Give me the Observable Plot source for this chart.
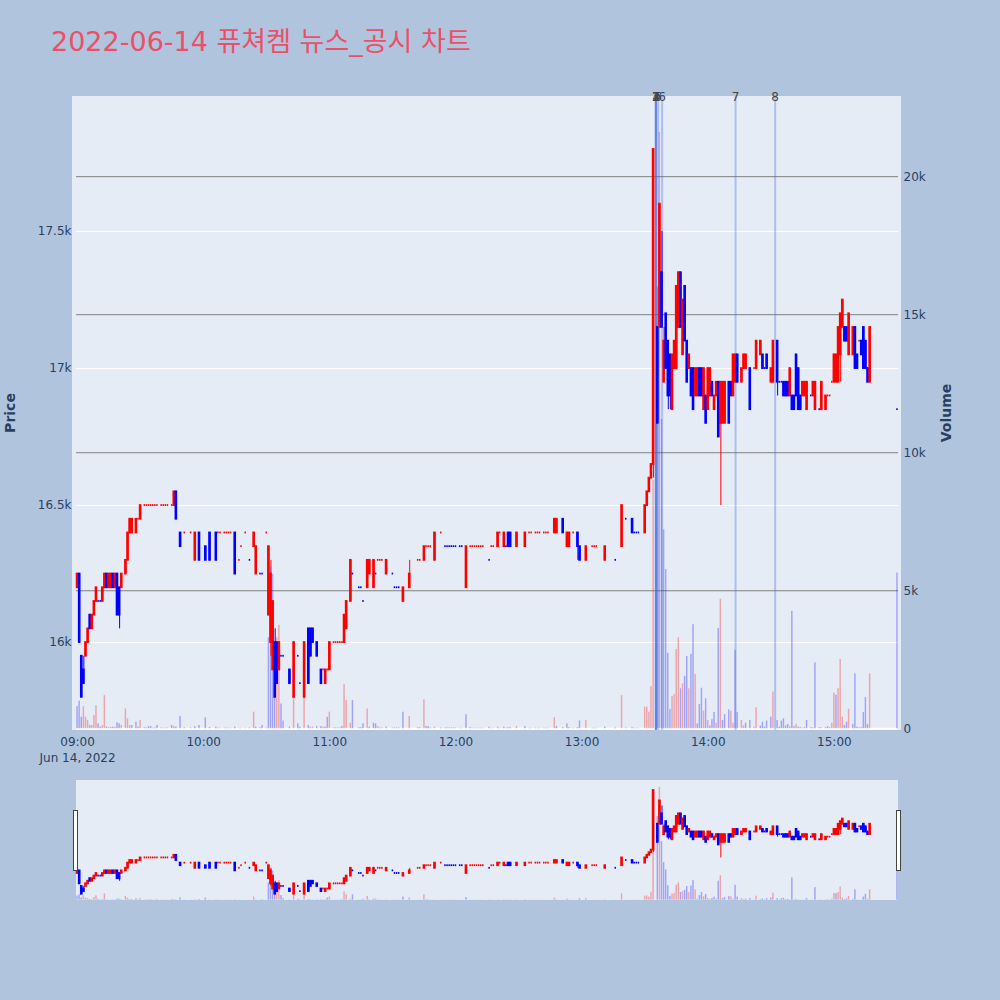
<!DOCTYPE html>
<html>
<head>
<meta charset="utf-8">
<script src="https://cdn.jsdelivr.net/npm/d3@7"></script>
<script src="https://cdn.jsdelivr.net/npm/@observablehq/plot@0.6"></script>
<style>
  html, body { margin: 0; padding: 0; background: #B0C4DE; }
  #root { position: relative; width: 1000px; height: 1000px; overflow: hidden; font-family: "DejaVu Sans", "Noto Sans CJK KR", sans-serif; }
  .abs { position: absolute; }
  .layer { position: absolute; left: 0; }
  .axtitle { position: absolute; transform: translate(-50%, -50%) rotate(-90deg); font-weight: bold; font-size: 14px; color: #2a3f5f; white-space: nowrap; }
  .handle { position: absolute; background: #fff; border: 1px solid #444; box-sizing: border-box; }
</style>
</head>
<body>
<div id="root">
  <div id="title" class="abs" style="left:51px; top:28px; font-size:27px; line-height:27px; color:#EB5068; white-space:nowrap;"></div>
  <div class="abs" style="left:72px; top:96px; width:829px; height:634px; background:#E5ECF6;"></div>
  <div id="mainA" class="layer" style="top:60px"></div>
  <div id="mainB" class="layer" style="top:60px"></div>
  <div id="mainC" class="layer" style="top:60px"></div>
  <div id="mainD" class="layer" style="top:60px"></div>
  <div id="yTitleL" class="axtitle" style="left:10px; top:413px;"></div>
  <div id="yTitleR" class="axtitle" style="left:946px; top:413px;"></div>
  <div class="abs" style="left:76px; top:780px; width:822px; height:120px; background:#E5ECF6;"></div>
  <div id="sliderV" class="layer" style="top:780px"></div>
  <div id="sliderC" class="layer" style="top:780px"></div>
  <div class="handle" style="left:73px; top:810px; width:5px; height:61px;"></div>
  <div class="handle" style="left:896px; top:810px; width:5px; height:61px;"></div>
</div>
<script>
// ---------- text ----------
const titleText = "2022-06-14 퓨쳐켐 뉴스_공시 차트";
const priceTitle = "Price";
const volumeTitle = "Volume";
const dateLabel = "Jun 14, 2022";

// ---------- 1-minute candles ----------
const times = [
  "09:00","09:01","09:02","09:03","09:04","09:05","09:06","09:07","09:08","09:09",
  "09:10","09:11","09:12","09:13","09:14","09:15","09:16","09:17","09:18","09:19",
  "09:20","09:21","09:23","09:24","09:25","09:26","09:28","09:29","09:30","09:32",
  "09:33","09:34","09:35","09:36","09:37","09:38","09:40","09:41","09:42","09:43",
  "09:45","09:46","09:47","09:49","09:51","09:54","09:56","09:58","10:01","10:03",
  "10:06","10:07","10:08","10:10","10:11","10:12","10:13","10:15","10:17","10:18",
  "10:20","10:22","10:24","10:25","10:27","10:28","10:30","10:31","10:32","10:33",
  "10:34","10:35","10:36","10:37","10:38","10:41","10:43","10:45","10:46","10:48",
  "10:50","10:51","10:52","10:54","10:56","10:57","10:58","10:59","11:00","11:02",
  "11:03","11:04","11:05","11:06","11:07","11:08","11:10","11:11","11:14","11:15",
  "11:16","11:18","11:19","11:21","11:22","11:23","11:24","11:25","11:27","11:30",
  "11:31","11:32","11:33","11:35","11:38","11:42","11:43","11:45","11:46","11:47",
  "11:48","11:50","11:53","11:55","11:56","11:57","11:58","11:59","12:00","12:02",
  "12:03","12:05","12:07","12:08","12:09","12:10","12:11","12:12","12:13","12:16",
  "12:17","12:18","12:20","12:21","12:23","12:24","12:25","12:26","12:29","12:33",
  "12:35","12:36","12:38","12:39","12:40","12:42","12:43","12:44","12:47","12:48",
  "12:51","12:53","12:54","12:56","12:58","12:59","13:02","13:05","13:06","13:07",
  "13:11","13:16","13:19","13:21","13:24","13:25","13:26","13:27","13:30","13:31",
  "13:32","13:33","13:34","13:36","13:37","13:38","13:39","13:40","13:41","13:42",
  "13:43","13:44","13:45","13:46","13:47","13:48","13:49","13:50","13:51","13:52",
  "13:53","13:54","13:55","13:56","13:57","13:58","13:59","14:00","14:01","14:02",
  "14:03","14:04","14:05","14:06","14:07","14:08","14:10","14:11","14:12","14:13",
  "14:14","14:16","14:17","14:18","14:20","14:22","14:23","14:25","14:26","14:27",
  "14:28","14:30","14:31","14:33","14:34","14:35","14:36","14:37","14:38","14:39",
  "14:40","14:41","14:42","14:43","14:44","14:45","14:46","14:47","14:49","14:50",
  "14:51","14:53","14:54","14:56","14:57","14:58","14:59","15:00","15:01","15:02",
  "15:03","15:04","15:05","15:06","15:07","15:09","15:10","15:11","15:12","15:13",
  "15:14","15:15","15:16","15:17","15:30"
];
const open = [
  16200,16250,15950,15900,15950,16000,16100,16050,16100,16150,
  16150,16150,16150,16200,16250,16200,16200,16250,16200,16250,
  16200,16200,16250,16300,16400,16400,16400,16450,16450,16500,
  16500,16500,16500,16500,16500,16500,16500,16500,16500,16500,
  16500,16500,16550,16400,16400,16400,16300,16400,16350,16400,
  16400,16400,16400,16400,16400,16400,16400,16400,16300,16350,
  16400,16300,16350,16250,16250,16250,16400,16100,16000,15900,
  16000,16000,15900,15950,15950,15900,15800,15950,15850,15800,
  16050,16050,16050,16000,15900,15900,15850,15900,15900,16000,
  16000,16000,16000,16000,16000,16050,16150,16250,16200,16200,
  16150,16200,16250,16200,16250,16300,16300,16300,16250,16250,
  16200,16200,16200,16150,16200,16300,16300,16300,16350,16350,
  16350,16300,16400,16350,16350,16350,16350,16350,16350,16350,
  16350,16200,16350,16350,16350,16350,16350,16350,16350,16300,
  16350,16350,16350,16400,16350,16350,16400,16400,16350,16350,
  16400,16400,16400,16400,16400,16400,16400,16400,16400,16400,
  16450,16350,16350,16400,16400,16350,16300,16350,16350,16350,
  16300,16300,16350,16450,16450,16400,16400,16400,16400,16500,
  16550,16600,16650,17150,17150,17350,16950,17200,17100,17050,
  16850,17000,17000,17150,17350,17050,17300,17100,17000,17000,
  17000,16900,16900,17000,17000,16850,16900,16850,16900,16950,
  16850,16900,16950,16800,16800,16800,16950,16950,16900,16950,
  17050,16950,17000,17000,17000,17000,17000,17050,17050,17000,
  17050,16950,16950,17100,16950,16950,16950,16950,16950,16900,
  16900,16900,17050,17000,16900,16900,16900,16850,16900,16900,
  16850,16850,16850,16850,16900,16900,16950,16950,16950,16950,
  17050,17150,17150,17150,17050,17050,17150,17050,17100,17100,
  17150,17100,17000,16950,16850
];
const high = [
  16250,16250,15950,15950,16000,16050,16100,16100,16150,16200,
  16150,16150,16200,16250,16250,16250,16250,16250,16250,16250,
  16200,16250,16300,16400,16450,16450,16450,16450,16500,16500,
  16500,16500,16500,16500,16500,16500,16500,16500,16500,16500,
  16500,16550,16550,16400,16400,16400,16400,16400,16350,16400,
  16400,16400,16400,16400,16400,16400,16400,16400,16300,16350,
  16400,16300,16400,16350,16250,16250,16400,16350,16300,16150,
  16050,16000,16000,15950,15950,15900,16000,15950,15850,16000,
  16050,16050,16050,16000,15900,15900,15900,15900,16000,16000,
  16000,16000,16000,16000,16100,16150,16300,16250,16200,16200,
  16150,16300,16300,16300,16250,16300,16300,16300,16300,16250,
  16200,16200,16200,16200,16300,16300,16300,16350,16350,16350,
  16350,16400,16400,16350,16350,16350,16350,16350,16350,16350,
  16350,16350,16350,16350,16350,16350,16350,16350,16350,16300,
  16350,16350,16400,16400,16400,16350,16400,16400,16400,16400,
  16400,16400,16400,16400,16400,16400,16400,16400,16450,16450,
  16450,16400,16400,16400,16400,16350,16350,16350,16350,16350,
  16350,16300,16500,16450,16450,16400,16400,16400,16500,16550,
  16600,16650,17800,17150,17600,17500,17150,17200,17100,17050,
  17050,17100,17300,17350,17350,17250,17300,17100,17050,17000,
  17000,17000,17000,17000,17000,17000,16900,17000,17000,16950,
  16900,16950,16950,16950,16950,16950,16950,16950,17050,17050,
  17050,17000,17050,17050,17000,17000,17100,17100,17050,17000,
  17050,17000,17100,17100,16950,16950,16950,16950,16950,17000,
  16900,16900,17050,17000,16900,16950,16950,16950,16900,16950,
  16950,16850,16950,16900,16900,16900,16950,17050,17050,17150,
  17200,17250,17150,17150,17200,17150,17150,17050,17100,17100,
  17150,17100,17000,17150,16850
];
const low = [
  16200,16000,15800,15850,15950,16000,16050,16050,16100,16150,
  16150,16150,16150,16200,16200,16200,16200,16200,16200,16100,
  16050,16200,16250,16300,16400,16400,16400,16450,16450,16500,
  16500,16500,16500,16500,16500,16500,16500,16500,16500,16500,
  16500,16500,16450,16350,16400,16400,16300,16300,16300,16300,
  16300,16400,16400,16400,16400,16400,16400,16250,16300,16350,
  16400,16300,16350,16250,16250,16250,16400,16100,15950,15900,
  15800,15850,15900,15950,15950,15850,15800,15950,15850,15800,
  15850,15950,16000,15950,15850,15900,15850,15900,15900,16000,
  16000,16000,16000,16000,16000,16050,16150,16250,16200,16200,
  16150,16200,16250,16200,16250,16300,16300,16300,16250,16250,
  16200,16200,16200,16150,16200,16300,16300,16300,16350,16350,
  16350,16300,16400,16350,16350,16350,16350,16350,16350,16350,
  16350,16200,16350,16350,16350,16350,16350,16350,16350,16300,
  16350,16350,16350,16400,16350,16350,16350,16350,16350,16350,
  16400,16400,16400,16400,16400,16400,16400,16400,16400,16400,
  16400,16350,16350,16400,16300,16300,16300,16350,16350,16350,
  16300,16300,16350,16450,16400,16400,16400,16400,16400,16500,
  16550,16600,16600,16800,17150,17150,16950,17000,16850,16850,
  16850,17000,17000,17150,17150,17050,17100,16950,17000,16900,
  16850,16900,16900,16900,16900,16850,16800,16850,16900,16900,
  16850,16900,16750,16500,16800,16800,16800,16900,16900,16950,
  16950,16950,17000,17000,16850,17000,17000,17050,17000,17000,
  17000,16950,16950,16900,16950,16950,16900,16900,16900,16900,
  16850,16850,16900,16850,16850,16900,16900,16850,16900,16900,
  16850,16850,16850,16850,16900,16900,16950,16950,16950,16950,
  16950,17150,17100,17100,17050,17050,17000,17000,17100,17050,
  17000,17000,16950,16950,16850
];
const close = [
  16250,16000,15800,15850,16000,16050,16050,16100,16150,16200,
  16150,16150,16200,16250,16200,16250,16250,16200,16250,16100,
  16100,16250,16300,16400,16450,16450,16450,16450,16500,16500,
  16500,16500,16500,16500,16500,16500,16500,16500,16500,16500,
  16500,16550,16450,16350,16400,16400,16400,16300,16300,16300,
  16300,16400,16400,16400,16400,16400,16400,16250,16300,16350,
  16400,16300,16400,16350,16250,16250,16400,16350,16250,16150,
  15800,15850,16000,15950,15950,15850,16000,15950,15850,16000,
  15850,15950,16000,15950,15850,15900,15900,15900,16000,16000,
  16000,16000,16000,16000,16100,16150,16300,16250,16200,16200,
  16150,16300,16300,16300,16250,16300,16300,16300,16300,16250,
  16200,16200,16200,16200,16250,16300,16300,16350,16350,16350,
  16350,16400,16400,16350,16350,16350,16350,16350,16350,16350,
  16350,16350,16350,16350,16350,16350,16350,16350,16350,16300,
  16350,16350,16400,16400,16400,16350,16350,16350,16400,16400,
  16400,16400,16400,16400,16400,16400,16400,16400,16450,16450,
  16400,16400,16400,16400,16350,16300,16350,16350,16350,16350,
  16350,16300,16500,16450,16400,16400,16400,16400,16500,16550,
  16600,16650,17800,16800,17600,17150,17100,17000,16900,16900,
  17050,17100,17300,17350,17150,17250,17100,16950,17050,16900,
  16850,17000,17000,16900,16900,17000,16800,17000,17000,16900,
  16900,16950,16750,16950,16950,16950,16800,16900,17050,17050,
  16950,17000,17050,17050,16850,17000,17100,17100,17000,17000,
  17000,17000,17100,16950,16950,16950,16900,16900,16900,17000,
  16850,16850,16900,16850,16850,16950,16950,16950,16900,16950,
  16950,16850,16950,16900,16900,16900,16950,17050,17050,17150,
  17200,17250,17100,17100,17200,17150,17000,17000,17100,17050,
  17000,17000,16950,17150,16850
];
const volume = [
  800,1000,420,800,420,300,120,120,480,840,
  180,60,120,1200,60,40,40,60,50,220,
  180,120,720,360,120,120,240,60,300,40,
  30,80,80,20,30,120,30,20,20,30,
  120,80,60,450,40,30,80,120,400,50,
  60,30,20,20,30,20,20,60,20,20,
  20,30,600,60,40,120,30,3300,5860,5600,
  1870,3300,3750,900,280,60,1150,180,60,1150,
  120,60,60,80,80,60,60,420,600,30,
  30,30,30,80,1600,1030,200,1030,40,40,
  180,720,60,200,180,80,30,30,60,30,
  30,30,30,600,450,40,40,1050,80,80,
  30,60,30,30,30,30,30,30,30,20,
  20,510,40,20,20,20,20,20,20,60,
  20,20,60,20,60,20,40,40,80,80,
  20,20,20,20,20,20,20,20,400,80,
  40,180,40,20,40,280,300,20,20,20,
  60,30,1200,30,40,20,20,20,785,785,
  600,1530,9000,16000,21600,11200,7200,5770,2740,700,
  1170,1240,2870,3300,1450,1630,1900,2620,1450,2700,
  3770,1970,180,880,1470,640,1090,300,100,330,
  590,200,3630,4690,300,520,690,640,200,2840,
  590,300,110,200,300,60,760,100,240,60,
  280,420,1330,300,60,280,360,100,160,80,
  4250,80,160,60,40,25,40,300,40,40,
  2390,40,40,40,80,40,200,1290,1220,1450,
  2510,420,120,240,710,160,1990,60,40,40,
  590,1130,150,1990,5640
];

// ---------- news markers ----------
const newsLabels = ["1","2","3","4","5","6","7","8"];
const newsTimes = ["13:35:00","13:35:05","13:35:10","13:35:15","13:36:15","13:38:05","14:13:00","14:31:50"];

// ---------- axes ----------
const xTickLabels = ["09:00","10:00","11:00","12:00","13:00","14:00","15:00"];
const priceTicks = [16000,16500,17000,17500];
const volumeTicks = [0,5000,10000,15000,20000];
const xDomainLabels = ["08:59:30","15:30:30"];
const priceDomain = [15679, 17993];
const volumeDomain = [-62, 22904];

// ---------- build ----------
const toMin = s => { const p = s.split(":").map(Number); return (p[0] - 9) * 60 + p[1] + (p[2] || 0) / 60; };
const RED = "#FF0000", BLUE = "#0000FF";
const rows = times.map((s, i) => ({ t: toMin(s), o: open[i], h: high[i], l: low[i], c: close[i], v: volume[i] }));
let prevUp = false, prevC = null;
for (const d of rows) {
  let up;
  if (d.c > d.o) up = true;
  else if (d.c < d.o) up = false;
  else if (prevC != null && d.c > prevC) up = true;
  else if (prevC != null && d.c < prevC) up = false;
  else up = prevUp;
  d.up = up;
  d.flat = d.c === d.o;
  d.volUp = prevC != null ? d.c > prevC : false;
  prevUp = up; prevC = d.c;
}
const xDomain = xDomainLabels.map(toMin);
const fmtK = v => v === 0 ? "0" : (v / 1000) + "k";
const xTickVals = xTickLabels.map(toMin);
const xLabelOf = v => { const i = xTickVals.indexOf(v); return i === 0 ? xTickLabels[0] + "\n" + dateLabel : xTickLabels[i]; };
const news = newsTimes.map((s, i) => ({ t: toMin(s), label: newsLabels[i] }));

const common = {
  width: 1000, height: 720, marginTop: 36, marginBottom: 50, marginLeft: 76, marginRight: 102,
  style: { background: "transparent", fontFamily: "DejaVu Sans, sans-serif", fontSize: "12px", color: "#2a3f5f", overflow: "visible" }
};

// Layer A: price grid + axes
const A = Plot.plot({
  ...common,
  x: { type: "linear", domain: xDomain },
  y: { domain: priceDomain },
  marks: [
    Plot.gridY(priceTicks, { stroke: "#ffffff", strokeOpacity: 1, strokeWidth: 1 }),
    Plot.axisY(priceTicks, { anchor: "left", tickSize: 0, tickPadding: 5, tickFormat: fmtK, label: null, fill: "#2a3f5f" }),
    Plot.axisX(xTickVals, { anchor: "bottom", tickSize: 0, tickPadding: 4, tickFormat: xLabelOf, label: null, lineHeight: 1.35, fill: "#2a3f5f" })
  ]
});
document.getElementById("mainA").appendChild(A);

// Layer B: volume
const volMarks = () => [
  Plot.rect(rows, { x1: d => d.t - 0.35, x2: d => d.t + 0.35, y1: () => 0, y2: "v", fill: d => d.volUp ? RED : BLUE, fillOpacity: 0.3 })
];
const B = Plot.plot({
  ...common,
  x: { type: "linear", domain: xDomain, axis: null },
  y: { domain: volumeDomain },
  marks: [
    Plot.gridY(volumeTicks.filter(v => v > 0), { stroke: "#808080", strokeOpacity: 1, strokeWidth: 1 }),
    Plot.ruleY([0], { stroke: "#ffffff", strokeWidth: 2 }),
    ...volMarks(),
    Plot.ruleX(news, { x: "t", stroke: "royalblue", strokeOpacity: 0.35, strokeWidth: 2 }),
    Plot.axisY(volumeTicks, { anchor: "right", tickSize: 0, tickPadding: 5, tickFormat: fmtK, label: null, fill: "#2a3f5f" })
  ]
});
document.getElementById("mainB").appendChild(B);

// Layer C: candles (flat candles drawn as short dashes)
const candleMarks = () => [
  Plot.ruleX(rows, { x: "t", y1: "l", y2: "h", stroke: d => d.up ? RED : BLUE, strokeWidth: 1 }),
  Plot.rect(rows, {
    x1: d => d.t - (d.flat ? 0.36 : 0.62), x2: d => d.t + (d.flat ? 0.36 : 0.62),
    y1: "o", y2: "c", fill: d => d.up ? RED : BLUE, insetTop: -0.9, insetBottom: -0.9
  })
];
const C = Plot.plot({
  ...common,
  x: { type: "linear", domain: xDomain, axis: null },
  y: { domain: priceDomain, axis: null },
  marks: candleMarks()
});
document.getElementById("mainC").appendChild(C);

// Layer D: news labels on top
const D = Plot.plot({
  ...common,
  x: { type: "linear", domain: xDomain, axis: null },
  y: { domain: priceDomain, axis: null },
  marks: [
    Plot.text(news, { x: "t", frameAnchor: "top", lineAnchor: "middle", dy: 1, text: "label", fontSize: 12, fill: "#444" })
  ]
});
document.getElementById("mainD").appendChild(D);

// Range slider
const slider = {
  width: 1000, height: 120, marginTop: 0, marginBottom: 0, marginLeft: 76, marginRight: 102,
  style: { background: "transparent", overflow: "visible" }
};
const SV = Plot.plot({
  ...slider,
  x: { type: "linear", domain: xDomain, axis: null },
  y: { domain: volumeDomain, axis: null },
  marks: volMarks()
});
document.getElementById("sliderV").appendChild(SV);
const SC = Plot.plot({
  ...slider,
  x: { type: "linear", domain: xDomain, axis: null },
  y: { domain: priceDomain, axis: null },
  marks: candleMarks()
});
document.getElementById("sliderC").appendChild(SC);

document.getElementById("title").textContent = titleText;
document.getElementById("yTitleL").textContent = priceTitle;
document.getElementById("yTitleR").textContent = volumeTitle;
</script>
</body>
</html>
